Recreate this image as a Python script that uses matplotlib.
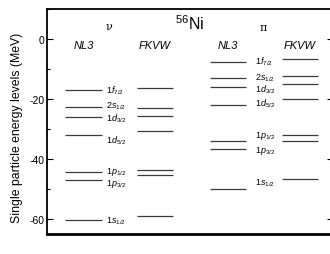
import matplotlib
matplotlib.use("Agg")
import matplotlib.pyplot as plt
from matplotlib.ticker import MultipleLocator

plt.rcParams['font.family'] = ['Liberation Sans', 'DejaVu Sans']
plt.rcParams['mathtext.fontset'] = 'custom'
plt.rcParams['mathtext.it'] = 'Liberation Sans:italic'
plt.rcParams['mathtext.rm'] = 'Liberation Sans'
plt.rcParams['mathtext.default'] = 'it'

# ---- data (MeV) ----
states = ['1f_{7/2}', '2s_{1/2}', '1d_{3/2}', '1d_{5/2}', '1p_{1/2}', '1p_{3/2}', '1s_{1/2}']
neutron_NL3 = [-16.9, -22.8, -26.1, -31.9, -44.4, -46.9, -60.3]
neutron_FKVW = [-16.3, -23.1, -25.8, -30.7, -43.7, -45.3, -59.0]
proton_NL3 = [-7.6, -13.0, -16.1, -22.0, -34.1, -36.7, -50.0]
proton_FKVW = [-6.8, -12.3, -15.0, -20.0, -32.0, -34.1, -46.7]
y_ticks = [-60, -40, -20, 0]
y_tick_labels = ['-60', '-40', '-20', '0']

# ---- layout ----
neutron_label_y = [-17.0, -22.2, -26.2, -33.7, -44.0, -48.0, -60.3]
proton_label_y = [-7.3, -12.6, -16.6, -21.3, -32.0, -37.0, -47.7]
cols = {'nNL3': (18, 55), 'nFKVW': (90, 126), 'pNL3': (163, 199), 'pFKVW': (235, 271)}
lab_x = {'n': 59, 'p': 208}

W, H = 330, 255
fig = plt.figure(figsize=(W / 100, H / 100), dpi=100)
left, right, top, bot = 47, 333, 10, 235
ax = fig.add_axes([left / W, 1 - bot / H, (right - left) / W, (bot - top) / H])
ax.set_xlim(0, right - left)
ax.set_ylim(-65, 10)

lc = '#3a3a3a'
for key, vals in [('nNL3', neutron_NL3), ('nFKVW', neutron_FKVW),
                  ('pNL3', proton_NL3), ('pFKVW', proton_FKVW)]:
    x0, x1 = cols[key]
    ax.hlines(vals, x0, x1, color=lc, lw=0.9)

for s, y in zip(states, neutron_label_y):
    ax.text(lab_x['n'], y, '$' + s + '$', fontsize=6.5, ha='left', va='center')
for s, y in zip(states, proton_label_y):
    ax.text(lab_x['p'], y, '$' + s + '$', fontsize=6.5, ha='left', va='center')

# column headers
hy = -2.0
for key, name in [('nNL3', 'NL3'), ('nFKVW', 'FKVW'), ('pNL3', 'NL3'), ('pFKVW', 'FKVW')]:
    x0, x1 = cols[key]
    ax.text((x0 + x1) / 2, hy, name, fontsize=8, style='italic', ha='center', va='center')
ax.text(62, 4.3, 'ν', fontsize=8, family='DejaVu Serif', ha='center', va='center')
ax.text(216, 4.0, 'π', fontsize=8, family='DejaVu Serif', ha='center', va='center')
ax.text(143, 5.5, r'$\mathrm{^{56}Ni}$', fontsize=11.5, ha='center', va='center')

ax.set_xticks([])
ax.set_yticks(y_ticks)
ax.set_yticklabels(y_tick_labels, fontsize=7.5)
ax.yaxis.set_minor_locator(MultipleLocator(10))
ax.tick_params(axis='y', which='major', direction='in', length=4.5, width=0.8,
               right=True, pad=2)
ax.tick_params(axis='y', which='minor', direction='in', length=2.2, width=0.8, right=True)
ax.spines['left'].set_linewidth(1.3)
ax.spines['top'].set_linewidth(1.3)
ax.spines['bottom'].set_linewidth(2.0)
ax.spines['right'].set_visible(False)
for s in ax.spines.values():
    s.set_color('black')

fig.text(17 / W, 1 - 127.5 / H, 'Single particle energy levels (MeV)', rotation=90,
         fontsize=8.8, ha='center', va='center')

fig.savefig('out.png', dpi=100)
